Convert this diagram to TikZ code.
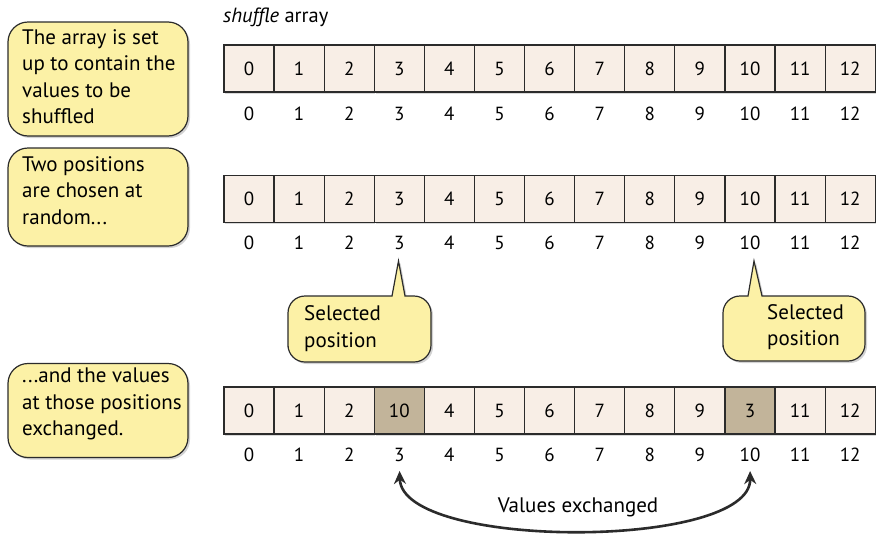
\documentclass[tikz,border=0pt]{standalone}
\usepackage{fontspec}
\setmainfont{PT Sans}
\usetikzlibrary{arrows.meta,shadows}
\definecolor{noteyellow}{HTML}{FCF1A6}
\definecolor{cellfill}{HTML}{F8EEE6}
\definecolor{hifill}{HTML}{C2B49A}
\definecolor{linec}{HTML}{2B2B2B}
\tikzset{
  notefont/.style={font=\fontsize{21}{26.5}\selectfont},
  notebox/.style={draw=linec, line width=1.2pt, fill=noteyellow, rounded corners=20pt,
     drop shadow={opacity=0.35, shadow xshift=2pt, shadow yshift=-2pt}},
  notetext/.style={notefont, align=left, inner sep=0pt, anchor=west},
  callbox/.style={draw=linec, line width=1.2pt, fill=noteyellow,
     drop shadow={opacity=0.35, shadow xshift=2pt, shadow yshift=-2pt}},
  cell/.style={draw=linec, line width=1.1pt, minimum width=50pt, minimum height=47pt,
     inner sep=0pt, font=\fontsize{19}{20}\selectfont},
  idx/.style={inner sep=1pt, font=\fontsize{19}{20}\selectfont},
  swaparrow/.style={line width=2.6pt, draw=linec, {Stealth[length=13pt,width=12pt]}-{Stealth[length=13pt,width=12pt]},
     shorten <=8pt, shorten >=8pt}
}
\begin{document}
\begin{tikzpicture}[x=1pt,y=-1pt]
\useasboundingbox (0,0) rectangle (883,536);

% left notes
\node[notebox, minimum width=180pt, minimum height=114pt] (box1) at (98,79) {};
\node[notetext] (t1) at (22,76.5) {The array is set\\up to contain the\\values to be\\shuffled};
\node[notebox, minimum width=180pt, minimum height=98pt] (box2) at (98,197) {};
\node[notetext] (t2) at (22,190.5) {Two positions\\are chosen at\\random...};
\node[notebox, minimum width=180pt, minimum height=94pt] (box3) at (98,410.5) {};
\node[notetext] (t3) at (22,404) {...and the values\\at those positions\\exchanged.};

% title
\node[anchor=west, inner sep=0pt, font=\fontsize{20.5}{22}\selectfont] (title) at (223,17) {\textit{shuffle} array};

% row 1 and row 2
\foreach \i in {0,...,12} {
  \node[cell, fill=cellfill, drop shadow={opacity=0.3, shadow xshift=1.2pt, shadow yshift=-1.5pt}] (a\i) at ({249+50.1*\i},68.5) {\i};
  \node[idx] (ai\i) at ({249+50.1*\i},114) {\i};
  \node[cell, fill=cellfill, drop shadow={opacity=0.3, shadow xshift=1.2pt, shadow yshift=-1.5pt}] (b\i) at ({249+50.1*\i},199) {\i};
  \node[idx] (bi\i) at ({249+50.1*\i},243) {\i};
}
% row 3
\foreach \i/\v/\f in {0/0/cellfill,1/1/cellfill,2/2/cellfill,3/10/hifill,4/4/cellfill,5/5/cellfill,6/6/cellfill,7/7/cellfill,8/8/cellfill,9/9/cellfill,10/3/hifill,11/11/cellfill,12/12/cellfill} {
  \node[cell, fill=\f, drop shadow={opacity=0.3, shadow xshift=1.2pt, shadow yshift=-1.5pt}] (c\i) at ({249+50.1*\i},410.5) {\v};
  \node[idx] (ci\i) at ({249+50.1*\i},455) {\i};
}

% selected position callouts
\draw[callbox] (288,330) [rounded corners=17pt] -- (288,296) [sharp corners] -- (392,296) -- (398.5,261) -- (405,296) [rounded corners=17pt] -- (431,296) -- (431,362) -- (288,362) -- cycle;
\node[notetext] (s1) at (304,328.5) {Selected\\position};
\draw[callbox] (723,330) [rounded corners=17pt] -- (723,296) [sharp corners] -- (748,296) -- (754,261) -- (762,296) [rounded corners=17pt] -- (865,296) -- (865,361) -- (723,361) -- cycle;
\node[notetext] (s2) at (767,327) {Selected\\position};

% exchange arrow
\draw[swaparrow] (ci3.south) .. controls (402,550) and (751,550) .. (ci10.south);
\node[notefont, inner sep=0pt] (vx) at (578,507) {Values exchanged};
\end{tikzpicture}
\end{document}
